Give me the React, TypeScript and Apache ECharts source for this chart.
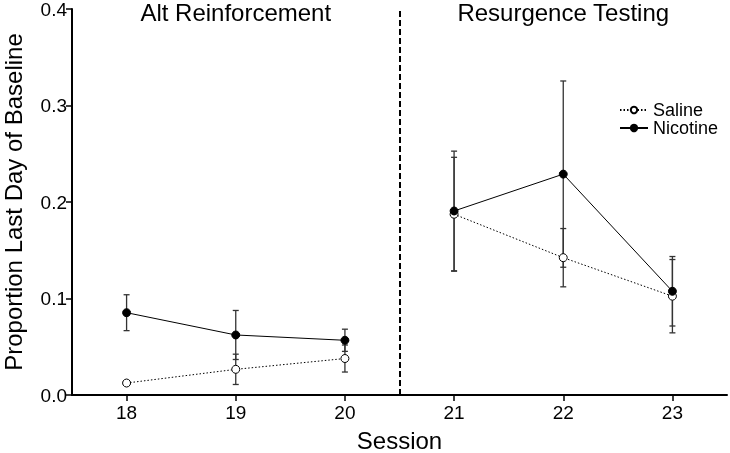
import React, { useEffect, useRef } from "react";
import * as echarts from "echarts";

const sessions = [18, 19, 20, 21, 22, 23];
const salineMean = [0.0124, 0.0266, 0.0378, 0.1873, 0.1423, 0.1024];
const salineSem = [0.002, 0.0157, 0.014, 0.059, 0.0302, 0.038];
const nicotineMean = [0.0853, 0.0622, 0.0567, 0.1907, 0.2289, 0.1075];
const nicotineSem = [0.0186, 0.0254, 0.0115, 0.062, 0.0965, 0.036];
const yTicks = [0, 0.1, 0.2, 0.3, 0.4];
const phaseTitles = ["Alt Reinforcement", "Resurgence Testing"];
const phaseCenters = [19, 22];
const phaseBoundary = 20.5;

const FONT = "Liberation Sans, Arial, sans-serif";

export default function App() {
  const ref = useRef<HTMLDivElement>(null);
  useEffect(() => {
    if (!ref.current) return;
    const chart = echarts.init(ref.current, null, { renderer: "svg" });

    const errData = (mean: number[], sem: number[]) =>
      sessions.map((s, i) => [s, mean[i] - sem[i], mean[i] + sem[i]]);

    const lineData = (mean: number[]) => {
      const out: any[] = [];
      sessions.forEach((s, i) => {
        if (i > 0 && sessions[i - 1] < phaseBoundary && s > phaseBoundary) {
          out.push([phaseBoundary, "-"]);
        }
        out.push([s, mean[i]]);
      });
      return out;
    };

    const errorSeries = (name: string, mean: number[], sem: number[]) => ({
      type: "custom",
      name: name + " SEM",
      data: errData(mean, sem),
      z: 1,
      silent: true,
      renderItem: (params: any, api: any) => {
        const x = api.value(0);
        const lo = api.coord([x, api.value(1)]);
        const hi = api.coord([x, api.value(2)]);
        const cap = 3;
        const style = { stroke: "#333", lineWidth: 1.3 };
        return {
          type: "group",
          children: [
            { type: "line", shape: { x1: lo[0], y1: lo[1], x2: hi[0], y2: hi[1] }, style },
            { type: "line", shape: { x1: lo[0] - cap, y1: lo[1], x2: lo[0] + cap, y2: lo[1] }, style },
            { type: "line", shape: { x1: hi[0] - cap, y1: hi[1], x2: hi[0] + cap, y2: hi[1] }, style },
          ],
        };
      },
    });

    const option: any = {
      animation: false,
      textStyle: { fontFamily: FONT, color: "#000" },
      grid: { left: 72, right: 3, top: 9, bottom: 58, containLabel: false, outerBoundsMode: "none" },
      legend: {
        data: ["Saline", "Nicotine"],
        orient: "vertical",
        left: 614,
        top: 96,
        itemWidth: 28,
        itemHeight: 8,
        itemGap: 0,
        textStyle: { fontSize: 18, fontFamily: FONT, color: "#000", lineHeight: 18 },
      },
      xAxis: {
        type: "value",
        min: 17.5,
        max: 23.5,
        interval: 1,
        name: "Session",
        nameLocation: "middle",
        nameGap: 33,
        nameTextStyle: { fontSize: 24, fontFamily: FONT, color: "#000" },
        axisLine: { onZero: false, lineStyle: { color: "#000", width: 2 } },
        axisTick: {
          show: true,
          length: 6,
          lineStyle: { color: "#000", width: 1.5 },
          customValues: sessions,
        },
        axisLabel: {
          fontSize: 19,
          color: "#000",
          margin: 8,
          fontFamily: FONT,
          customValues: sessions,
        },
        splitLine: { show: false },
      },
      yAxis: {
        type: "value",
        min: 0,
        max: 0.4,
        interval: 0.1,
        name: "Proportion Last Day of Baseline",
        nameLocation: "middle",
        nameGap: 47,
        nameTextStyle: { fontSize: 24, fontFamily: FONT, color: "#000" },
        axisLine: { show: true, lineStyle: { color: "#000", width: 2 } },
        axisTick: { show: true, length: 6, lineStyle: { color: "#000", width: 1.5 } },
        axisLabel: {
          fontSize: 19,
          color: "#000",
          margin: 5,
          fontFamily: FONT,
          formatter: (v: number) => (yTicks.some((t) => Math.abs(t - v) < 1e-9) ? v.toFixed(1) : ""),
        },
        splitLine: { show: false },
      },
      graphic: phaseTitles.map((t, i) => ({
        type: "text",
        id: "title" + i,
        z: 10,
        style: {
          text: t,
          fontSize: 24,
          fontFamily: FONT,
          fill: "#000",
          textAlign: "center",
          textVerticalAlign: "middle",
        },
        x: 72 + ((phaseCenters[i] - 17.5) / 6) * 655,
        y: 12,
      })),
      series: [
        errorSeries("Saline", salineMean, salineSem),
        errorSeries("Nicotine", nicotineMean, nicotineSem),
        {
          name: "Saline",
          type: "line",
          data: lineData(salineMean),
          connectNulls: false,
          symbol: "circle",
          symbolSize: 8,
          z: 3,
          itemStyle: { color: "#fff", borderColor: "#000", borderWidth: 1 },
          lineStyle: { color: "#000", width: 1, type: [1.5, 2] },
          markLine: {
            silent: true,
            symbol: "none",
            label: { show: false },
            lineStyle: { color: "#000", width: 2, type: [6, 3] },
            data: [{ xAxis: phaseBoundary }],
          },
        },
        {
          name: "Nicotine",
          type: "line",
          data: lineData(nicotineMean),
          connectNulls: false,
          symbol: "circle",
          symbolSize: 8,
          z: 4,
          itemStyle: { color: "#000", borderColor: "#000", borderWidth: 1 },
          lineStyle: { color: "#000", width: 1 },
        },
      ],
    };
    chart.setOption(option);
    return () => chart.dispose();
  }, []);
  return <div ref={ref} style={{ width: 730, height: 453, position: "fixed", left: 0, top: 0 }} />;
}
